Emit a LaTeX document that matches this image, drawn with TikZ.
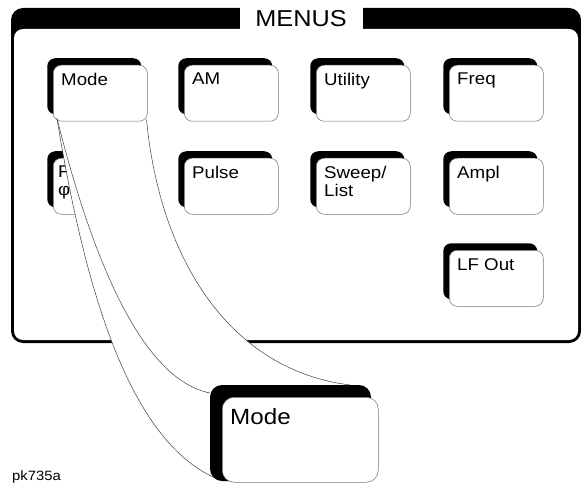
\documentclass[tikz,border=0pt]{standalone}
\usepackage{fontspec}
\setmainfont{Liberation Sans}[FakeStretch=1.1]
\usetikzlibrary{shadows}

\newcommand{\keyfont}{\fontsize{17}{18}\selectfont}
\newcommand{\bigkeyfont}{\fontsize{22}{24}\selectfont}
\newcommand{\menufont}{\fontsize{23}{24}\selectfont}

\tikzset{
  keybase/.style={draw=black!55, line width=0.5pt, fill=white, anchor=north west, inner sep=0pt},
  menukey/.style={keybase, rounded corners=8pt, minimum width=94pt, minimum height=56pt,
    general shadow={fill=black, shadow xshift=-6pt, shadow yshift=7pt}},
  bigkey/.style={keybase, rounded corners=12pt, minimum width=156pt, minimum height=85pt},
  keytext/.style={anchor=north west, inner sep=0pt, align=left, font=\keyfont, xshift=8pt, yshift=-8pt},
  zoomline/.style={draw=black!75, line width=0.5pt}
}

\begin{document}
\begin{tikzpicture}[x=1pt, y=-1pt]
\useasboundingbox (0,0) rectangle (581,484);

% panel frame
\fill[rounded corners=12pt] (11,8) rectangle (581,343);
\fill[white, rounded corners=9pt] (14,29) rectangle (578,340);
\fill[white] (240,5) rectangle (363,30);
\node[font=\menufont, inner sep=0pt] (menus) at (301,19) {MENUS};

% key hidden behind the zoom
\node[menukey, label={[keytext, xshift=-3pt]north west:FM\\φM}] (fm) at (53,158) {};

% corner points of the enlarged key
\coordinate (zoomtl) at (210,393);
\coordinate (zoombl) at (213,477);
\coordinate (zoomtr) at (350,385);

% zoom funnel
\fill[white] (57,118) .. controls (88,310) and (135,440) .. (zoombl)
  -- (zoomtr) .. controls (230,370) and (160,260) .. (146,119) -- cycle;

% keys
\node[menukey, label={[keytext]north west:Mode}] (mode) at (53,65) {};
\node[menukey, label={[keytext]north west:AM}] (am) at (184,65) {};
\node[menukey, label={[keytext]north west:Utility}] (utility) at (316,65) {};
\node[menukey, label={[keytext]north west:Freq}] (freq) at (449,65) {};

\node[menukey, label={[keytext]north west:Pulse}] (pulse) at (184,158) {};
\node[menukey, label={[keytext]north west:Sweep/\\List}] (sweep) at (316,158) {};
\node[menukey, label={[keytext]north west:Ampl}] (ampl) at (449,158) {};

\node[menukey, label={[keytext]north west:LF Out}] (lfout) at (449,250) {};

% zoom lines
\draw[zoomline] ([shift={(4,-3)}]mode.south west) .. controls (88,310) and (135,440) .. (zoombl);
\draw[zoomline] ([shift={(4,-3)}]mode.south west) .. controls (95,270) and (145,380) .. (zoomtl);
\draw[zoomline] ([shift={(-1,-2)}]mode.south east) .. controls (160,260) and (230,370) .. (zoomtr);

% enlarged key
\fill[rounded corners=12pt] (210,385) rectangle (371,481);
\node[bigkey, label={[keytext, font=\bigkeyfont, yshift=-3pt]north west:Mode}] (bigmode) at (222,397) {};

\node[font=\fontsize{13.5}{14}\selectfont, anchor=base west, inner sep=0pt] (figid) at (12,480) {pk735a};
\end{tikzpicture}
\end{document}
